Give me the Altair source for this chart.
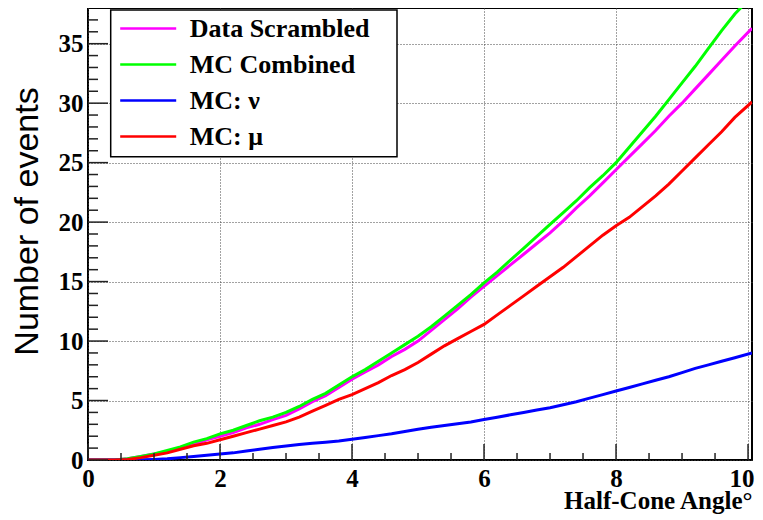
import altair as alt
import pandas as pd

# bin edges (half-cone angle, degrees); last edge is the histogram's upper limit
angle = [0.0, 0.2, 0.4, 0.6, 0.8, 1.0, 1.2, 1.4, 1.6, 1.8,
         2.0, 2.2, 2.4, 2.6, 2.8, 3.0, 3.2, 3.4, 3.6, 3.8,
         4.0, 4.2, 4.4, 4.6, 4.8, 5.0, 5.2, 5.4, 5.6, 5.8,
         6.0, 6.2, 6.4, 6.6, 6.8, 7.0, 7.2, 7.4, 7.6, 7.8,
         8.0, 8.2, 8.4, 8.6, 8.8, 9.0, 9.2, 9.4, 9.6, 9.8, 10.06]

data_scrambled = [0, 0, 0, 0.1, 0.3, 0.5, 0.7, 1.0, 1.3, 1.7,
                  2.0, 2.3, 2.7, 3.0, 3.4, 3.75, 4.3, 4.9, 5.4, 6.1,
                  6.8, 7.4, 8.0, 8.7, 9.3, 10.0, 10.9, 11.8, 12.7, 13.7,
                  14.6, 15.5, 16.4, 17.3, 18.2, 19.1, 20.1, 21.2, 22.2, 23.3,
                  24.4, 25.5, 26.6, 27.7, 28.9, 30.0, 31.2, 32.4, 33.6, 34.8, 36.3]

mc_combined = [0, 0, 0, 0.1, 0.3, 0.5, 0.8, 1.1, 1.5, 1.8,
               2.2, 2.5, 2.9, 3.3, 3.6, 4.0, 4.5, 5.1, 5.6, 6.3,
               7.0, 7.6, 8.3, 9.0, 9.7, 10.4, 11.2, 12.1, 13.0, 13.9,
               14.9, 15.8, 16.8, 17.8, 18.8, 19.8, 20.8, 21.8, 22.9, 23.9,
               25.0, 26.3, 27.6, 28.9, 30.3, 31.7, 33.1, 34.6, 36.1, 37.5, 39.0]

mc_nu = [0, 0, 0, 0, 0.02, 0.05, 0.1, 0.2, 0.3, 0.4,
         0.5, 0.6, 0.75, 0.9, 1.05, 1.18, 1.3, 1.4, 1.5, 1.6,
         1.74, 1.9, 2.05, 2.2, 2.4, 2.58, 2.75, 2.9, 3.05, 3.2,
         3.4, 3.6, 3.8, 4.0, 4.2, 4.4, 4.65, 4.9, 5.2, 5.5,
         5.8, 6.1, 6.4, 6.7, 7.0, 7.35, 7.7, 8.0, 8.3, 8.6, 9.0]

mc_mu = [0, 0, 0, 0.05, 0.2, 0.4, 0.6, 0.9, 1.2, 1.4,
         1.7, 2.0, 2.3, 2.6, 2.9, 3.2, 3.6, 4.1, 4.6, 5.1,
         5.5, 6.0, 6.5, 7.1, 7.6, 8.2, 8.9, 9.6, 10.2, 10.8,
         11.4, 12.2, 13.0, 13.8, 14.6, 15.4, 16.2, 17.1, 18.0, 18.9,
         19.7, 20.4, 21.3, 22.2, 23.2, 24.3, 25.4, 26.5, 27.6, 28.8, 30.1]

series_names = ["Data Scrambled", "MC Combined", "MC: ν", "MC: μ"]
series_colors = ["#ff00ff", "#00ff00", "#0000ff", "#ff0000"]

x_major = [0, 2, 4, 6, 8, 10]
x_minor = [0.5, 1, 1.5, 2.5, 3, 3.5, 4.5, 5, 5.5, 6.5, 7, 7.5, 8.5, 9, 9.5]
y_major = [0, 5, 10, 15, 20, 25, 30, 35]
y_minor = [1, 2, 3, 4, 6, 7, 8, 9, 11, 12, 13, 14, 16, 17, 18, 19,
           21, 22, 23, 24, 26, 27, 28, 29, 31, 32, 33, 34, 36, 37]

rows = []
for name, vals in zip(series_names, [data_scrambled, mc_combined, mc_nu, mc_mu]):
    for i, (x, v) in enumerate(zip(angle, vals)):
        rows.append({"angle": x, "events": v, "series": name, "idx": i})
df = pd.DataFrame(rows)

W, H = 664, 452
xscale = alt.Scale(domain=[0, 10.06], nice=False, zero=False)
yscale = alt.Scale(domain=[0, 38], nice=False)

serif = "Liberation Serif"

x_axis = alt.Axis(values=x_major, format="d", title="Half-Cone Angle°",
                  ticks=False, domain=False, grid=True, labelFlush=False,
                  labelAlign={"condition": {"test": "datum.value == 10", "value": "right"},
                              "value": "center"},
                  labelOffset={"condition": {"test": "datum.value == 10", "value": 6},
                               "value": 0},
                  gridDash=[1, 2], gridColor="#444", gridWidth=1,
                  labelFont=serif, labelFontSize=25, labelFontWeight="bold",
                  labelColor="black", labelPadding=6,
                  titleFont=serif, titleFontSize=25, titleFontWeight="bold",
                  titleColor="black", titleAlign="right", titleAnchor="end",
                  titleBaseline="alphabetic", titleX=W, titleY=48)
y_axis = alt.Axis(values=y_major, format="d", title="Number of events",
                  ticks=False, domain=False, grid=True, labelFlush=False,
                  gridDash=[1, 2], gridColor="#444", gridWidth=1,
                  labelFont=serif, labelFontSize=25, labelFontWeight="bold",
                  labelColor="black", labelPadding=5,
                  titleFont="Liberation Sans", titleFontSize=34,
                  titleFontWeight="normal", titleColor="black",
                  titleAngle=270, titleAlign="center", titleBaseline="alphabetic",
                  titleX=-51, titleY=213)

lines = alt.Chart(df).mark_line(strokeWidth=3, clip=True).encode(
    x=alt.X("angle:Q", scale=xscale, axis=x_axis),
    y=alt.Y("events:Q", scale=yscale, axis=y_axis),
    color=alt.Color("series:N",
                    scale=alt.Scale(domain=series_names, range=series_colors),
                    legend=alt.Legend(title=None, orient="none", legendX=22.7, legendY=-1,
                                      padding=6, symbolType="M-2,0H2", symbolSize=784,
                                      symbolStrokeWidth=2.5, symbolOffset=16,
                                      labelFont=serif, labelLimit=400,
                                      labelFontSize=26, labelFontWeight="bold",
                                      labelColor="black", rowPadding=7, labelOffset=26)),
    order="idx:Q",
)

# legend frame (drawn over the curves, under the legend entries)
legend_box = alt.Chart(pd.DataFrame({"k": [0]})).mark_rect(
    fill="white", stroke="black", strokeWidth=1.5).encode(
    x=alt.value(22.7), x2=alt.value(309), y=alt.value(2), y2=alt.value(148.7))

def xticks(vals, length):
    return alt.Chart(pd.DataFrame({"angle": vals})).mark_rule(color="#222", strokeWidth=1.5).encode(
        x=alt.X("angle:Q", scale=xscale, axis=x_axis),
        y=alt.value(H), y2=alt.value(H - length))

def yticks(vals, length):
    return alt.Chart(pd.DataFrame({"events": vals})).mark_rule(color="#222", strokeWidth=1.5).encode(
        y=alt.Y("events:Q", scale=yscale, axis=y_axis),
        x=alt.value(0), x2=alt.value(length))

chart = alt.layer(
    lines,
    xticks(x_major, 16), xticks(x_minor, 7),
    yticks(y_major, 20), yticks(y_minor, 10),
    legend_box,
).properties(
    width=W, height=H,
    autosize=alt.AutoSizeParams(type="none"),
    padding={"left": 80, "top": 0, "right": 3, "bottom": 60},
).configure_view(stroke="black", strokeWidth=2)

chart.save("out.html", embed_options={"renderer": "svg", "actions": False})
